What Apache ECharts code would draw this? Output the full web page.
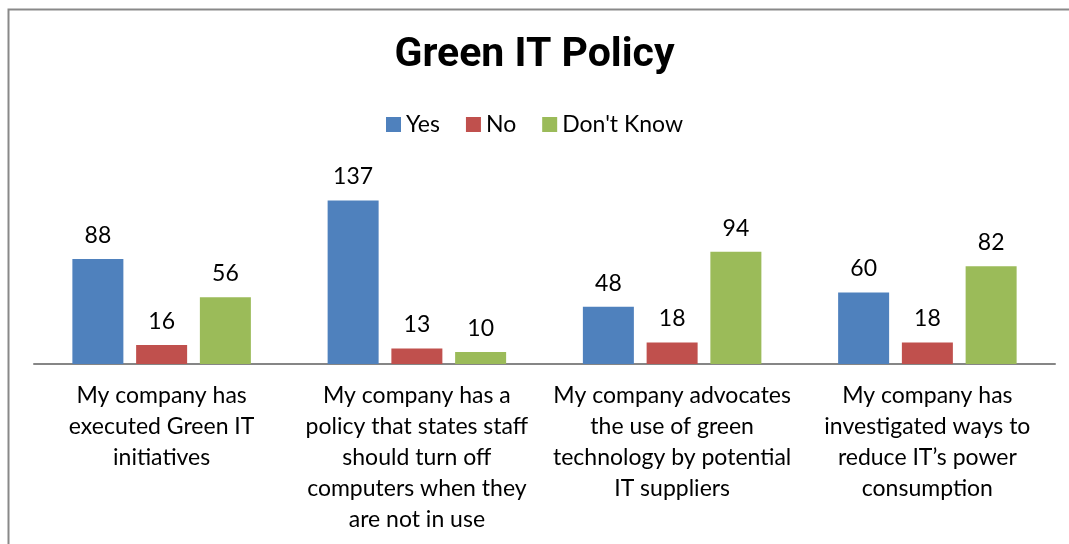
<!DOCTYPE html>
<html>
<head>
<meta charset="utf-8">
<script src="https://cdn.jsdelivr.net/npm/echarts@6/dist/echarts.min.js"></script>
<style>
html,body{margin:0;padding:0;background:#fff;}
#c{width:1069px;height:544px;}
</style>
</head>
<body>
<div id="c"></div>
<script>
const categories = [
  "My company has\nexecuted Green IT\ninitiatives",
  "My company has a\npolicy that states staff\nshould turn off\ncomputers when they\nare not in use",
  "My company advocates\nthe use of green\ntechnology by potential\nIT suppliers",
  "My company has\ninvestigated ways to\nreduce IT\u2019s power\nconsumption"
];
const seriesNames = ["Yes", "No", "Don't Know"];
const yesValues = [88, 137, 48, 60];
const noValues = [16, 13, 18, 18];
const dontKnowValues = [56, 10, 94, 82];
const colors = ["#4F81BD", "#C0504D", "#9BBB59"];

const font = "Lato";
const chart = echarts.init(document.getElementById('c'));
const mk = (name, data, color) => ({
  name, type: 'bar', data, barWidth: 51, barGap: '25%',
  itemStyle: {color},
  label: {show: true, position: 'top', distance: 12, color: '#000', fontFamily: font, fontSize: 23}
});
chart.setOption({
  animation: false,
  graphic: [{
    type: 'rect', left: 6, top: 7, shape: {width: 1200, height: 700},
    style: {fill: 'none', stroke: '#898989', lineWidth: 2}
  }],
  title: {
    text: 'Green IT Policy', left: 'center', top: 30,
    textStyle: {fontFamily: 'Roboto', fontWeight: 'bold', fontSize: 41, color: '#000'}
  },
  legend: {
    data: seriesNames, top: 108, left: 'center', itemWidth: 15, itemHeight: 15, itemGap: 26,
    icon: 'rect',
    textStyle: {fontFamily: font, fontSize: 23, color: '#000'}
  },
  grid: {left: 34, right: 14, top: 185, bottom: 180, containLabel: false},
  xAxis: {
    type: 'category', data: categories,
    axisLine: {lineStyle: {color: '#868686', width: 2}},
    axisTick: {show: false},
    axisLabel: {interval: 0, margin: 16, fontFamily: font, fontSize: 23, lineHeight: 31, color: '#000', align: 'center'}
  },
  yAxis: {type: 'value', min: 0, max: 150, show: false, splitLine: {show: false}},
  series: [
    mk(seriesNames[0], yesValues, colors[0]),
    mk(seriesNames[1], noValues, colors[1]),
    mk(seriesNames[2], dontKnowValues, colors[2])
  ]
});
</script>
</body>
</html>
